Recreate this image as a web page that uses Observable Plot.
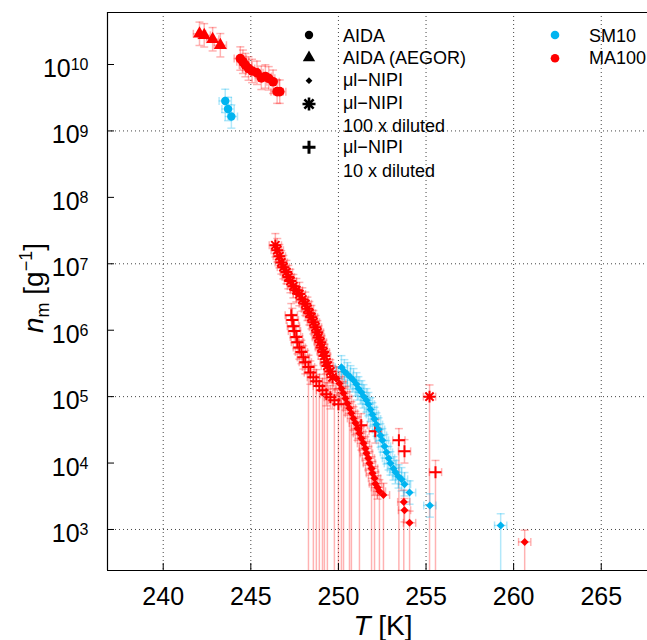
<!DOCTYPE html>
<html><head><meta charset="utf-8">
<script src="https://cdn.jsdelivr.net/npm/d3@7"></script>
<script src="https://cdn.jsdelivr.net/npm/@observablehq/plot@0.6"></script>
<style>
html,body{margin:0;padding:0;background:#fff;overflow:hidden}
#chart svg{display:block}
</style>
</head><body><div id="chart"></div>
<script>
// ---- data: [T (K), n_m (g^-1), lowerErrorOffScale?] ----
const aidaSM10 = [[243.54,2.83e9],[243.70,2.14e9],[243.89,1.65e9]];
const aidaMA100 = [[244.40,1.23e10],[244.55,1.10e10],[244.69,9.8e9],[244.87,8.7e9],[245.07,8.0e9],[245.35,7.5e9],[245.60,6.3e9],[245.83,6.6e9],[246.02,6.2e9],[246.27,5.5e9],[246.50,3.9e9],[246.65,3.9e9]];
const aegorMA100 = [[242.07,2.9e10],[242.34,2.75e10],[242.82,2.4e10],[243.26,1.95e10]];
const nipiSM10 = [[250.17,2.76e5],[250.34,2.40e5],[250.51,2.17e5],[250.69,1.95e5],[250.86,1.76e5],[251.03,1.53e5],[251.14,1.33e5],[251.31,1.16e5],[251.43,1.01e5],[251.60,8.8e4],[251.71,7.7e4],[251.83,6.4e4],[251.94,5.4e4],[252.06,4.6e4],[252.17,3.8e4],[252.29,3.2e4],[252.40,2.6e4],[252.51,2.2e4],[252.63,1.79e4],[252.74,1.45e4],[252.86,1.18e4],[252.97,9.9e3],[253.14,8.3e3],[253.26,7.3e3],[253.43,6.3e3],[253.60,5.7e3],[253.77,4.8e3],[254.06,3.6e3],[255.22,2.3e3],[259.26,1.15e3,1]];
const nipiMA100 = [[249.89,1.88e5],[250.06,1.58e5],[250.17,1.33e5,1],[250.29,1.12e5,1],[250.40,9.4e4],[250.51,7.9e4],[250.63,6.7e4,1],[250.74,5.6e4,1],[250.86,4.7e4],[250.97,4.0e4],[251.09,3.3e4],[251.20,2.8e4,1],[251.31,2.35e4],[251.43,1.98e4],[251.54,1.66e4],[251.60,1.40e4],[251.71,1.18e4],[251.77,9.9e3],[251.89,8.3e3,1],[251.94,7.0e3],[252.06,5.9e3,1],[252.11,4.9e3],[252.23,4.3e3],[252.34,3.75e3,1],[252.57,3.3e3,1],[253.73,2.6e3,1],[253.77,1.95e3],[254.06,1.26e3,1],[260.63,650,1]];
const nipi100MA100 = [[246.40,1.9e7],[246.51,1.6e7],[246.63,1.3e7],[246.74,1.05e7],[246.86,8.9e6],[247.03,7.5e6],[247.14,6.3e6],[247.26,5.5e6],[247.43,4.6e6],[247.60,4.0e6],[247.77,3.5e6],[247.94,2.9e6],[248.11,2.5e6],[248.23,2.1e6],[248.34,1.8e6],[248.46,1.57e6],[248.57,1.32e6],[248.69,1.11e6],[248.80,9.3e5],[248.86,7.8e5],[248.97,6.6e5],[249.03,5.5e5],[249.14,4.7e5],[249.20,4.1e5,1],[249.31,3.3e5],[249.37,2.9e5,1],[249.54,2.4e5],[249.66,1.95e5],[255.20,1.0e5,1]];
const nipi10MA100 = [[247.31,1.68e6],[247.37,1.42e6],[247.43,1.15e6],[247.49,9.7e5],[247.60,7.9e5],[247.66,6.6e5],[247.77,5.5e5],[247.89,4.7e5],[248.00,3.9e5],[248.11,3.3e5],[248.29,2.8e5,1],[248.40,2.3e5],[248.57,1.96e5,1],[248.74,1.7e5,1],[248.91,1.44e5,1],[249.09,1.25e5,1],[249.31,1.09e5],[249.54,9.8e4],[249.77,8.8e4,1],[250.00,7.7e4,1],[251.30,3.7e4],[252.10,3.0e4],[253.45,2.2e4,1],[253.77,1.5e4],[255.54,7.3e3,1]];

const xTicks = [240,245,250,255,260,265];
const yTicks = [1e3,1e4,1e5,1e6,1e7,1e8,1e9,1e10];
const yGrid = [1e3,1e5,1e7,1e9];
const xDomain = [236.82, 267.64];
const yDomain = [10**2.3825, 10**10.783];
const xErr = 0.35, yErr = 1.5;

const colors = {SM10: "#00b4f0", MA100: "#ff0000"};
const seriesNames = ["SM10", "MA100"];
const legendMethods = [["AIDA"],["AIDA (AEGOR)"],["\u03bcl\u2212NIPI"],["\u03bcl\u2212NIPI","100 x diluted"],["\u03bcl\u2212NIPI","10 x diluted"]];

// ---- symbols ----
const rad = s => Math.sqrt(s / Math.PI);
const asterisk8 = {draw(c, s){const r = rad(s), d = r*Math.SQRT1_2;
  c.moveTo(-r,0);c.lineTo(r,0);c.moveTo(0,-r);c.lineTo(0,r);
  c.moveTo(-d,-d);c.lineTo(d,d);c.moveTo(-d,d);c.lineTo(d,-d);}};
const plusSym = {draw(c, s){const r = rad(s); c.moveTo(-r,0);c.lineTo(r,0);c.moveTo(0,-r);c.lineTo(0,r);}};
const diamondSym = {draw(c, s){const r = rad(s); c.moveTo(0,-r);c.lineTo(r,0);c.lineTo(0,r);c.lineTo(-r,0);c.closePath();}};
const hcap = {draw(c, s){const r = rad(s); c.moveTo(-r,0);c.lineTo(r,0);}};
const vcap = {draw(c, s){const r = rad(s); c.moveTo(0,-r);c.lineTo(0,r);}};

const rows = (arr, series) => arr.map(([T, n, open]) => ({T, n, open: !!open, series, color: colors[series]}));
const all = [
  ...rows(aidaMA100,"MA100"), ...rows(aegorMA100,"MA100"), ...rows(nipi100MA100,"MA100"),
  ...rows(nipi10MA100,"MA100"), ...rows(nipiMA100,"MA100"),
  ...rows(aidaSM10,"SM10"), ...rows(nipiSM10,"SM10")
];
const lo = d => d.open ? yDomain[0] : d.n / yErr;
const hi = d => d.n * yErr;
const errStyle = {stroke: "color", strokeOpacity: 0.3, strokeWidth: 1.5, clip: true};

const gridStyle = {stroke: "#444", strokeOpacity: 1, strokeDasharray: "1,3", strokeWidth: 1};

const chart = Plot.plot({
  width: 647, height: 640,
  marginLeft: 107, marginRight: 0, marginTop: 12, marginBottom: 70,
  style: {fontFamily: "'Liberation Sans', Arial, sans-serif", fontSize: "25px", color: "#000", background: "#fff"},
  x: {domain: xDomain},
  y: {type: "log", domain: yDomain},
  color: {type: "identity"},
  marks: [
    Plot.gridX(xTicks, gridStyle),
    Plot.gridY(yGrid, gridStyle),
    // error bars
    Plot.ruleX(all, {x: "T", y1: lo, y2: hi, ...errStyle}),
    Plot.ruleY(all, {y: "n", x1: d => d.T - xErr, x2: d => d.T + xErr, ...errStyle}),
    Plot.dot(all, {x: "T", y: hi, symbol: hcap, r: 4, fill: "none", ...errStyle}),
    Plot.dot(all.filter(d => !d.open), {x: "T", y: lo, symbol: hcap, r: 4, fill: "none", ...errStyle}),
    Plot.dot(all, {x: d => d.T - xErr, y: "n", symbol: vcap, r: 4, fill: "none", ...errStyle}),
    Plot.dot(all, {x: d => d.T + xErr, y: "n", symbol: vcap, r: 4, fill: "none", ...errStyle}),
    // markers
    Plot.dot(rows(aegorMA100,"MA100"), {x: "T", y: "n", symbol: "triangle", r: 4.8, fill: "color", stroke: "none"}),
    Plot.dot(rows(aidaMA100,"MA100"), {x: "T", y: "n", symbol: "circle", r: 4.8, fill: "color", stroke: "none"}),
    Plot.dot(rows(nipi100MA100,"MA100"), {x: "T", y: "n", symbol: asterisk8, r: 5.8, fill: "none", stroke: "color", strokeWidth: 2}),
    Plot.dot(rows(nipi10MA100,"MA100"), {x: "T", y: "n", symbol: plusSym, r: 6, fill: "none", stroke: "color", strokeWidth: 2}),
    Plot.dot(rows(nipiMA100,"MA100"), {x: "T", y: "n", symbol: diamondSym, r: 4, fill: "color", stroke: "none"}),
    Plot.dot(rows(aidaSM10,"SM10"), {x: "T", y: "n", symbol: "circle", r: 4.2, fill: "color", stroke: "none"}),
    Plot.dot(rows(nipiSM10,"SM10"), {x: "T", y: "n", symbol: diamondSym, r: 4, fill: "color", stroke: "none"}),
    // frame (left, top, bottom)
    Plot.ruleX([xDomain[0]], {stroke: "#000", strokeWidth: 1.2}),
    Plot.ruleY(yDomain, {stroke: "#000", strokeWidth: 1.2}),
    // axes
    Plot.axisX(xTicks, {tickSize: -7, tickFormat: () => "", label: null, stroke: "#000"}),
    Plot.axisX(xTicks, {tickSize: 0, tickPadding: 17, label: null, fontSize: 25}),
    Plot.axisY(yTicks, {tickSize: -7, tickFormat: () => "", label: null, stroke: "#000"}),
    Plot.axisY(yTicks, {tickSize: 0, tickPadding: 19, dy: 4.5, label: null, fontSize: 25,
      tickFormat: d => String(Math.round(Math.log10(d)))})
  ]
});
document.getElementById("chart").appendChild(chart);

const svg = d3.select(chart);
// superscripts on y tick labels
svg.selectAll('g[aria-label="y-axis tick label"] text').each(function(){
  const t = d3.select(this); const e = t.text();
  if (!e) return;
  t.text("10");
  t.append("tspan").attr("dy", "-0.42em").attr("font-size", "16px").text(e);
});

const font = "'Liberation Sans', Arial, sans-serif";
// axis titles
const xt = svg.append("text").attr("x", 383).attr("y", 635).attr("text-anchor", "middle")
  .attr("font-family", font).attr("font-size", 28).attr("fill", "#000");
xt.append("tspan").attr("font-style", "italic").text("T");
xt.append("tspan").text(" [K]");
const yt = svg.append("text").attr("transform", "translate(43,288) rotate(-90)").attr("text-anchor", "middle")
  .attr("font-family", font).attr("font-size", 28).attr("fill", "#000");
yt.append("tspan").attr("font-style", "italic").text("n");
yt.append("tspan").attr("font-size", 18).attr("dy", 6).text("m");
yt.append("tspan").attr("dy", -6).text(" [g");
yt.append("tspan").attr("font-size", 18).attr("dy", -11).text("\u22121");
yt.append("tspan").attr("dy", 11).text("]");

// legend
const lg = svg.append("g").attr("font-family", font).attr("font-size", 18).attr("fill", "#000").attr("text-anchor", "start");
const legSyms = [
  {type: d3.symbolCircle, size: Math.PI*4.2*4.2, fill: true, y: 35},
  {type: d3.symbolTriangle, size: Math.PI*4.6*4.6, fill: true, y: 57.7},
  {type: diamondSym, size: Math.PI*3.4*3.4, fill: true, y: 80.7},
  {type: asterisk8, size: Math.PI*6.5*6.5, fill: false, y: 104, w: 2.6},
  {type: plusSym, size: Math.PI*6.5*6.5, fill: false, y: 147.3, w: 3}
];
const legText = [[41.7],[64],[86],[109.3,131.7],[153.3,176.7]];
legSyms.forEach((s, i) => {
  lg.append("path").attr("transform", `translate(309,${s.y})`)
    .attr("d", d3.symbol(s.type, s.size)())
    .attr("fill", s.fill ? "#000" : "none").attr("stroke", s.fill ? "none" : "#000")
    .attr("stroke-width", s.w || 0);
  legendMethods[i].forEach((line, j) => {
    lg.append("text").attr("x", 343).attr("y", legText[i][j]).text(line);
  });
});
seriesNames.forEach((name, i) => {
  lg.append("circle").attr("cx", 555).attr("cy", 35 + i*23.3).attr("r", 4.3).attr("fill", colors[name]);
  lg.append("text").attr("x", 589).attr("y", 41.7 + i*22.6).text(name);
});
</script></body></html>
